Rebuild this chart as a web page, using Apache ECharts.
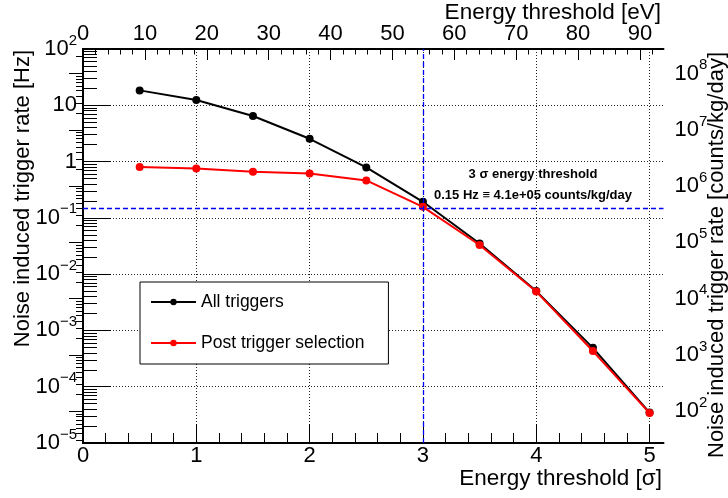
<!DOCTYPE html>
<html><head><meta charset="utf-8">
<script src="https://cdn.jsdelivr.net/npm/echarts@6/dist/echarts.min.js"></script>
<style>html,body{margin:0;padding:0;background:#fff}#c{width:728px;height:498px}</style>
</head><body><div id="c"></div>
<script>
// ---- data ----
const sigmaValues = [0.5, 1, 1.5, 2, 2.5, 3, 3.5, 4, 4.5, 5];
const allTriggers = [18.4, 12.4, 6.44, 2.54, 0.787, 0.193, 0.035, 0.0050, 4.9e-4, 3.47e-5];
const postSelection = [0.80, 0.755, 0.66, 0.615, 0.462, 0.157, 0.033, 0.0049, 4.3e-4, 3.4e-5];
const seriesNames = ['All triggers', 'Post trigger selection'];
const thresholdSigma = 3;
const thresholdRate = 0.15;             // Hz
const thresholdCounts = 4.1e5;          // counts/kg/day
const sigmaTicks = [0, 1, 2, 3, 4, 5];
const eVTicks = [0, 10, 20, 30, 40, 50, 60, 70, 80, 90];
const hzTicks = [1e-5, 1e-4, 1e-3, 1e-2, 1e-1, 1, 10, 100];
const countTicks = [1e2, 1e3, 1e4, 1e5, 1e6, 1e7, 1e8];
const sigmaMax = 5.123, eVMax = 93.8, hzMin = 1e-5, hzMax = 1e2;
const annotation = ['3 σ energy threshold', '0.15 Hz ≡ 4.1e+05 counts/kg/day'];

const conv = thresholdCounts / thresholdRate;
function minorLog(lo, hi) { const o = []; for (let e = lo; e < hi; e++) for (let k = 2; k <= 9; k++) o.push(k * Math.pow(10, e)); return o; }
function minorLin(step, max) { const o = []; for (let v = 0; v <= max + 1e-9; v += step) o.push(+v.toFixed(6)); return o; }

const FONT = 'Liberation Sans, Arial, Helvetica, sans-serif';
const rich = { b: { fontSize: 22, fontFamily: FONT, color: '#000' }, s: { fontSize: 15, fontFamily: FONT, color: '#000', padding: [0, 0, 17, 0] } };
function powLabel(v) {
  const e = Math.round(Math.log10(v));
  if (e === 0) return '{b|1}';
  if (e === 1) return '{b|10}';
  return '{b|10}{s|' + String(e).replace('-', '−') + '}';
}
function powLabelAll(v) {
  const e = Math.round(Math.log10(v));
  return '{b|10}{s|' + String(e).replace('-', '−') + '}';
}
const frameLine = { show: true, lineStyle: { color: '#000', width: 2 } };
const noLine = { show: false };

const chart = echarts.init(document.getElementById('c'), null, { renderer: 'canvas' });
chart.setOption({
  animation: false,
  grid: { left: 83, right: 64.5, top: 49, bottom: 55 },
  xAxis: [
    { type: 'value', position: 'bottom', min: 0, max: sigmaMax, axisLine: frameLine,
      axisTick: { show: true, inside: true, length: 19, customValues: sigmaTicks, lineStyle: { color: '#000', width: 1 } },
      axisLabel: { customValues: sigmaTicks, fontSize: 22, fontFamily: FONT, color: '#000', margin: 2 },
      splitLine: { show: true, lineStyle: { color: '#222', width: 1, type: [1, 2] } } },
    { type: 'value', position: 'bottom', min: 0, max: sigmaMax, axisLine: noLine,
      axisTick: { show: true, inside: true, length: 10, customValues: minorLin(0.2, 5.1), lineStyle: { color: '#000', width: 1 } },
      axisLabel: { show: false }, splitLine: { show: false } },
    { type: 'value', position: 'top', min: 0, max: eVMax, axisLine: frameLine,
      axisTick: { show: true, inside: true, length: 11, customValues: eVTicks, lineStyle: { color: '#000', width: 1 } },
      axisLabel: { customValues: eVTicks, fontSize: 22, fontFamily: FONT, color: '#000', margin: 4 },
      splitLine: { show: false } },
    { type: 'value', position: 'top', min: 0, max: eVMax, axisLine: noLine,
      axisTick: { show: true, inside: true, length: 5.5, customValues: minorLin(2, 92), lineStyle: { color: '#000', width: 1 } },
      axisLabel: { show: false }, splitLine: { show: false } }
  ],
  yAxis: [
    { type: 'log', logBase: 10, position: 'left', min: hzMin, max: hzMax, axisLine: frameLine,
      axisTick: { show: true, inside: true, length: 28, customValues: hzTicks, lineStyle: { color: '#000', width: 1 } },
      axisLabel: { customValues: hzTicks, formatter: powLabel, rich: rich, margin: 6, align: 'right' },
      splitLine: { show: true, lineStyle: { color: '#222', width: 1, type: [1, 2] } } },
    { type: 'log', logBase: 10, position: 'left', offset: 0, min: hzMin, max: hzMax, axisLine: noLine,
      axisTick: { show: true, inside: true, length: 14, customValues: minorLog(-5, 2), lineStyle: { color: '#000', width: 1 } },
      axisLabel: { show: false }, splitLine: { show: false } },
    { type: 'log', logBase: 10, position: 'right', offset: 0, min: hzMin * conv, max: hzMax * conv, axisLine: frameLine,
      axisTick: { show: true, inside: true, length: 14, customValues: countTicks, lineStyle: { color: '#000', width: 1 } },
      axisLabel: { customValues: countTicks, formatter: powLabelAll, rich: rich, margin: 11, align: 'left' },
      splitLine: { show: false } },
    { type: 'log', logBase: 10, position: 'right', offset: 0, min: hzMin * conv, max: hzMax * conv, axisLine: noLine,
      axisTick: { show: true, inside: true, length: 7, customValues: minorLog(1, 9).filter(v => v > hzMin * conv && v < hzMax * conv), lineStyle: { color: '#000', width: 1 } },
      axisLabel: { show: false }, splitLine: { show: false } }
  ],
  legend: {
    left: 140, top: 282, orient: 'vertical', data: seriesNames,
    itemWidth: 45, itemHeight: 8, itemGap: 21, padding: [10, 24, 11, 10],
    borderColor: '#000', borderWidth: 1, backgroundColor: '#fff',
    textStyle: { fontSize: 17.5, fontFamily: FONT, color: '#000', lineHeight: 20 }
  },
  series: [
    { name: seriesNames[0], type: 'line', xAxisIndex: 0, yAxisIndex: 0, z: 3,
      data: sigmaValues.map((s, i) => [s, allTriggers[i]]),
      symbol: 'circle', symbolSize: 8, color: '#000', lineStyle: { color: '#000', width: 2 }, itemStyle: { color: '#000' } },
    { name: seriesNames[1], type: 'line', xAxisIndex: 0, yAxisIndex: 0, z: 4,
      data: sigmaValues.map((s, i) => [s, postSelection[i]]),
      symbol: 'circle', symbolSize: 8, color: '#ff0000', lineStyle: { color: '#ff0000', width: 2 }, itemStyle: { color: '#ff0000' } },
    { name: 'threshold', type: 'line', xAxisIndex: 0, yAxisIndex: 0, z: 2, data: [],
      markLine: { silent: true, symbol: 'none', animation: false, label: { show: false },
        lineStyle: { color: '#0000ff', width: 1.3, type: [5, 3] },
        data: [{ yAxis: thresholdRate }, { xAxis: thresholdSigma }] } }
  ],
  graphic: [
    { type: 'text', x: 23, y: 50, rotation: Math.PI / 2, style: { text: 'Noise induced trigger rate [Hz]', font: '22px ' + FONT, fill: '#000', align: 'right', verticalAlign: 'middle' } },
    { type: 'text', x: 717, y: 52, rotation: Math.PI / 2, style: { text: 'Noise induced trigger rate [counts/kg/day]', font: '22px ' + FONT, fill: '#000', align: 'right', verticalAlign: 'middle' } },
    { type: 'text', x: 662, y: 479, style: { text: 'Energy threshold [σ]', font: '22.5px ' + FONT, fill: '#000', align: 'right', verticalAlign: 'middle' } },
    { type: 'text', x: 661, y: 12.5, style: { text: 'Energy threshold [eV]', font: '22.5px ' + FONT, fill: '#000', align: 'right', verticalAlign: 'middle' } },
    { type: 'text', x: 533, y: 174, style: { text: annotation[0], font: 'bold 13px ' + FONT, fill: '#000', align: 'center', verticalAlign: 'middle' } },
    { type: 'text', x: 533, y: 195, style: { text: annotation[1], font: 'bold 13px ' + FONT, fill: '#000', align: 'center', verticalAlign: 'middle' } }
  ]
});
</script></body></html>
